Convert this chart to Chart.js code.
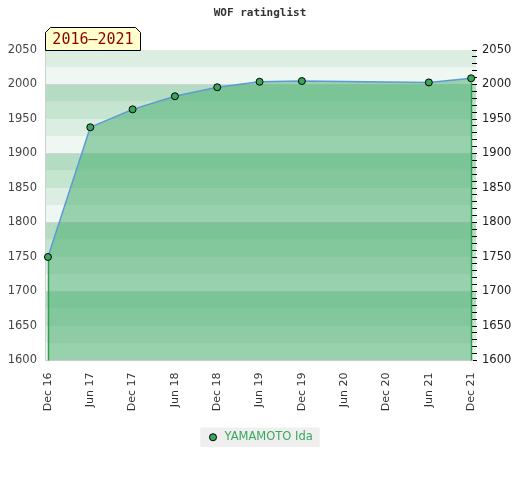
<!DOCTYPE html>
<html><head><meta charset="utf-8">
<script src="https://cdn.jsdelivr.net/npm/chart.js@4.4.1/dist/chart.umd.min.js"></script>
<style>html,body{margin:0;padding:0;background:#fff}</style>
</head><body>
<canvas id="c" width="520" height="480"></canvas>
<script>
const periodLabels = ['Dec 16','Jun 17','Dec 17','Jun 18','Dec 18','Jun 19','Dec 19','Jun 20','Dec 20','Jun 21','Dec 21'];
const ratings = [1750,1938,1964,1983,1996,2004,2005,null,null,2003,2009];
const seriesName = 'YAMAMOTO Ida';
const chartTitle = 'WOF ratinglist';
const periodTag = '2016–2021';
const yMin = 1600, yMax = 2050, yStep = 50, minorStep = 10, bandStep = 25;

const points = ratings.map((v,i)=>({x:i,y:v})).filter(p=>p.y!==null);

const bandColors = {0:'#eff7f2',25:'#dcede2',50:'#c5e5d0',75:'#b3dcc3'};

const bandsPlugin = {
  id:'bands',
  beforeDraw(chart){
    const {ctx, chartArea:a, scales:{y}} = chart;
    ctx.save();
    for(let v=yMin; v<yMax; v+=bandStep){
      const top = y.getPixelForValue(v+bandStep), bot = y.getPixelForValue(v);
      ctx.fillStyle = bandColors[((v%100)+100)%100];
      ctx.fillRect(a.left, top, a.right - a.left + 4, bot-top);
    }
    const lg = chart.legend;
    if (lg && lg.legendHitBoxes && lg.legendHitBoxes.length){
      const hb = lg.legendHitBoxes[0];
      ctx.fillStyle = '#efefef';
      ctx.fillRect(hb.left-7, hb.top-4, hb.width+14, hb.height+8);
    }
    ctx.restore();
  },
  afterDatasetsDraw(chart){
    const {ctx, chartArea:a} = chart;
    const meta = chart.getDatasetMeta(0);
    const pts = meta.data;
    if(!pts.length) return;
    ctx.save();
    ctx.strokeStyle = '#2f9e4f';
    ctx.lineWidth = 1.5;
    [pts[0], pts[pts.length-1]].forEach(p=>{
      ctx.beginPath();
      ctx.moveTo(Math.round(p.x)+0.5, p.y+4);
      ctx.lineTo(Math.round(p.x)+0.5, a.bottom);
      ctx.stroke();
    });
    ctx.restore();
  },
  afterDraw(chart){
    const {ctx, chartArea:a} = chart;
    ctx.save();
    const l = a.left + 0.5, r = a.left + 95.5, t = a.top - 22.5, b = a.top + 0.5, c = 5;
    ctx.beginPath();
    ctx.moveTo(l, b); ctx.lineTo(l, t+c); ctx.lineTo(l+c, t); ctx.lineTo(r-c, t); ctx.lineTo(r, t+c); ctx.lineTo(r, b); ctx.closePath();
    ctx.fillStyle = '#ffffcc'; ctx.fill();
    ctx.strokeStyle = '#000'; ctx.lineWidth = 1; ctx.stroke();
    ctx.fillStyle = '#8b0000';
    ctx.font = '15px "DejaVu Sans Mono", monospace';
    ctx.textAlign = 'center'; ctx.textBaseline = 'middle';
    ctx.fillText(periodTag, (l+r)/2, (t+b)/2 + 1);
    ctx.restore();
  }
};

new Chart(document.getElementById('c'), {
  type:'line',
  data:{
    datasets:[{
      label: seriesName,
      data: points,
      borderColor:'#5b9bd5',
      borderWidth:1.5,
      backgroundColor:'rgba(65,171,103,0.5)',
      fill:'origin',
      tension:0,
      pointRadius:3.5,
      pointBackgroundColor:'#3ca55c',
      pointBorderColor:'#000',
      pointBorderWidth:1,
      clip:6
    }]
  },
  options:{
    responsive:false,
    animation:false,
    devicePixelRatio:1,
    layout:{padding:{top:0,bottom:27,left:0,right:0}},
    plugins:{
      title:{display:true,text:chartTitle,color:'#333',font:{family:'"DejaVu Sans Mono", monospace',size:11,weight:'bold'},padding:{top:7,bottom:29.8}},
      legend:{position:'bottom',labels:{usePointStyle:true,pointStyle:'circle',boxWidth:16,boxHeight:5,padding:10,color:'#3aa85c',font:{family:'"DejaVu Sans", sans-serif',size:11.5},
        generateLabels(chart){
          return Chart.defaults.plugins.legend.labels.generateLabels(chart).map(it=>Object.assign(it,{fillStyle:'#3ca55c',strokeStyle:'#000',lineWidth:1,fontColor:'#3aa85c'}));
        }}},
      tooltip:{enabled:false}
    },
    scales:{
      x:{type:'linear',min:-0.07,max:10.02,
        afterBuildTicks(s){ s.ticks = periodLabels.map((_,i)=>({value:i})); },
        afterFit(s){ s.height = 61; },
        ticks:{autoSkip:false,minRotation:90,maxRotation:90,color:'#333',padding:4,font:{family:'"DejaVu Sans", sans-serif',size:11},callback:(v)=>periodLabels[v]},
        grid:{display:false},
        border:{display:true,color:'#d0d0d0'}
      },
      y:{position:'left',min:yMin,max:yMax,
        afterFit(s){ s.width = 45; },
        ticks:{stepSize:yStep,color:'#444',padding:8,font:{family:'"DejaVu Sans", sans-serif',size:11.5},callback:(v)=>String(v)},
        grid:{drawTicks:false,color:(c)=> (c.tick && c.tick.value%100===0 && c.tick.value!==yMin) ? '#d4d4d4' : 'rgba(0,0,0,0)'},
        border:{display:true,color:'#d0d0d0'}
      },
      y2:{position:'right',min:yMin,max:yMax,
        afterBuildTicks(s){ const t=[]; for(let v=yMin; v<=yMax; v+=minorStep) t.push({value:v}); s.ticks=t; },
        afterFit(s){ s.width = 48; },
        ticks:{autoSkip:false,color:'#222',padding:5,font:{family:'"DejaVu Sans", sans-serif',size:11.5},callback:(v)=> v%yStep===0 ? String(v) : ''},
        grid:{drawOnChartArea:false,drawTicks:true,tickLength:5,color:'#000',lineWidth:1},
        border:{display:false}
      }
    }
  },
  plugins:[bandsPlugin]
});
</script>
</body></html>
